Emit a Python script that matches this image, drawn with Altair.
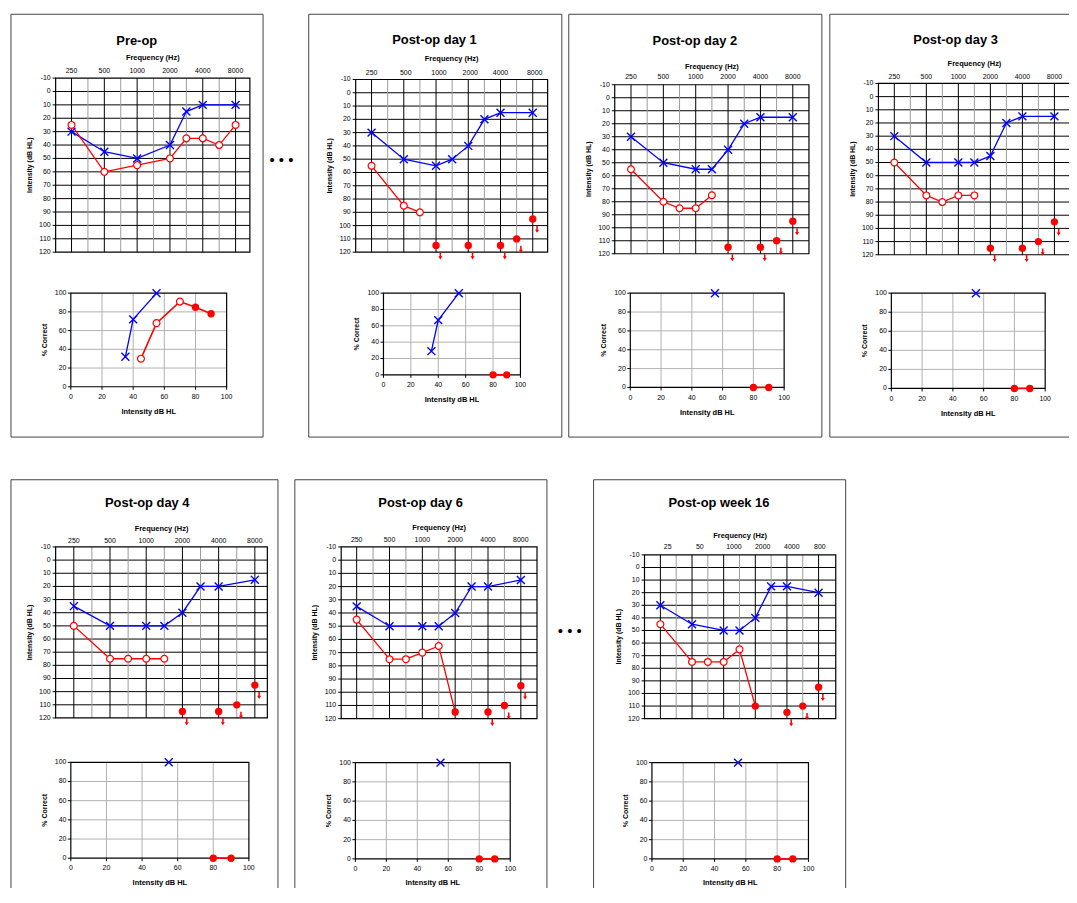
import altair as alt
import pandas as pd

# ---------------- data ----------------
TITLES = ["Pre-op", "Post-op day 1", "Post-op day 2", "Post-op day 3",
          "Post-op day 4", "Post-op day 6", "Post-op week 16"]
FREQ_LABELS = ["250", "500", "1000", "2000", "4000", "8000"]
FREQ_LABELS_WK16 = ["25", "50", "1000", "2000", "4000", "800"]
DB_TICKS = [-10, 0, 10, 20, 30, 40, 50, 60, 70, 80, 90, 100, 110, 120]
PC_TICKS = [0, 20, 40, 60, 80, 100]

# Audiogram thresholds: X (blue), O (red open), NR (red filled, no response + arrow),
# FC (red filled, connected to the O line)
PRE_X_HZ = [250, 500, 1000, 2000, 3000, 4000, 8000]
PRE_X_DB = [30, 45, 50, 40, 15, 10, 10]
PRE_O_HZ = [250, 500, 1000, 2000, 3000, 4000, 6000, 8000]
PRE_O_DB = [25, 60, 55, 50, 35, 35, 40, 25]
PRE_NR_HZ, PRE_NR_DB = [], []
PRE_FC_HZ, PRE_FC_DB = [], []

D1_X_HZ = [250, 500, 1000, 1500, 2000, 3000, 4000, 8000]
D1_X_DB = [30, 50, 55, 50, 40, 20, 15, 15]
D1_O_HZ = [250, 500, 750]
D1_O_DB = [55, 85, 90]
D1_NR_HZ = [1000, 2000, 4000, 6000, 8000]
D1_NR_DB = [115, 115, 115, 110, 95]
D1_FC_HZ, D1_FC_DB = [], []

D2_X_HZ = [250, 500, 1000, 1500, 2000, 3000, 4000, 8000]
D2_X_DB = [30, 50, 55, 55, 40, 20, 15, 15]
D2_O_HZ = [250, 500, 750, 1000, 1500]
D2_O_DB = [55, 80, 85, 85, 75]
D2_NR_HZ = [2000, 4000, 6000, 8000]
D2_NR_DB = [115, 115, 110, 95]
D2_FC_HZ, D2_FC_DB = [], []

D3_X_HZ = [250, 500, 1000, 1500, 2000, 3000, 4000, 8000]
D3_X_DB = [30, 50, 50, 50, 45, 20, 15, 15]
D3_O_HZ = [250, 500, 750, 1000, 1500]
D3_O_DB = [50, 75, 80, 75, 75]
D3_NR_HZ = [2000, 4000, 6000, 8000]
D3_NR_DB = [115, 115, 110, 95]
D3_FC_HZ, D3_FC_DB = [], []

D4_X_HZ = [250, 500, 1000, 1500, 2000, 3000, 4000, 8000]
D4_X_DB = [35, 50, 50, 50, 40, 20, 20, 15]
D4_O_HZ = [250, 500, 750, 1000, 1500]
D4_O_DB = [50, 75, 75, 75, 75]
D4_NR_HZ = [2000, 4000, 6000, 8000]
D4_NR_DB = [115, 115, 110, 95]
D4_FC_HZ, D4_FC_DB = [], []

D6_X_HZ = [250, 500, 1000, 1500, 2000, 3000, 4000, 8000]
D6_X_DB = [35, 50, 50, 50, 40, 20, 20, 15]
D6_O_HZ = [250, 500, 750, 1000, 1500]
D6_O_DB = [45, 75, 75, 70, 65]
D6_NR_HZ = [4000, 6000, 8000]
D6_NR_DB = [115, 110, 95]
D6_FC_HZ = [2000]
D6_FC_DB = [115]

W16_X_HZ = [250, 500, 1000, 1500, 2000, 3000, 4000, 8000]
W16_X_DB = [30, 45, 50, 50, 40, 15, 15, 20]
W16_O_HZ = [250, 500, 750, 1000, 1500]
W16_O_DB = [45, 75, 75, 75, 65]
W16_NR_HZ = [4000, 6000, 8000]
W16_NR_DB = [115, 110, 95]
W16_FC_HZ = [2000]
W16_FC_DB = [110]

# Speech: X (blue), O (red open), F (red filled) -> (dB HL, % correct)
PRE_SX_DB, PRE_SX_PC = [35, 40, 55], [32, 72, 100]
PRE_SO_DB, PRE_SO_PC = [45, 55, 70], [30, 68, 91]
PRE_SF_DB, PRE_SF_PC = [80, 90], [85, 78]

D1_SX_DB, D1_SX_PC = [35, 40, 55], [29, 67, 100]
D1_SO_DB, D1_SO_PC = [], []
D1_SF_DB, D1_SF_PC = [80, 90], [0, 0]

D2_SX_DB, D2_SX_PC = [55], [100]
D2_SO_DB, D2_SO_PC = [], []
D2_SF_DB, D2_SF_PC = [80, 90], [0, 0]

D3_SX_DB, D3_SX_PC = [55], [100]
D3_SO_DB, D3_SO_PC = [], []
D3_SF_DB, D3_SF_PC = [80, 90], [0, 0]

D4_SX_DB, D4_SX_PC = [55], [100]
D4_SO_DB, D4_SO_PC = [], []
D4_SF_DB, D4_SF_PC = [80, 90], [0, 0]

D6_SX_DB, D6_SX_PC = [55], [100]
D6_SO_DB, D6_SO_PC = [], []
D6_SF_DB, D6_SF_PC = [80, 90], [0, 0]

W16_SX_DB, W16_SX_PC = [55], [100]
W16_SO_DB, W16_SO_PC = [], []
W16_SF_DB, W16_SF_PC = [80, 90], [0, 0]

# ---------------- styling / layout ----------------
FONT = "Liberation Sans"
W, H = 1069, 880
BLUE = "#0000FF"
RED = "#FF0000"
BOXC = "#444444"
X_PATH = "M-1,-1L1,1M-1,1L1,-1"
ARROW_PATH = "M-0.22,-1L0.22,-1L0.22,0.1L0.58,0.1L0,1L-0.58,0.1L-0.22,0.1Z"
FREQ_POS = {250: 0, 500: 2, 750: 3, 1000: 4, 1500: 5, 2000: 6,
            3000: 7, 4000: 8, 6000: 9, 8000: 10}

AUD_GEOM = [
    dict(left=48, right=243.7, p0=64, p10=229.3, top=67.3, bottom=242.7, lc=7.3, ty=21.3),
    dict(left=350.3, right=543.7, p0=366.3, p10=528.7, top=68.7, bottom=242.7, lc=6.7, ty=21.7),
    dict(left=611.3, right=807, p0=627.7, p10=790.7, top=74, bottom=244.3, lc=8.7, ty=18.7),
    dict(left=877, right=1070.5, p0=893, p10=1054.3, top=72.7, bottom=245.3, lc=7.4, ty=20),
    dict(left=48, right=261.3, p0=66.3, p10=248.7, top=539.7, bottom=712, lc=6.7, ty=18.4),
    dict(left=335.7, right=533, p0=351.3, p10=516.7, top=539.7, bottom=712.7, lc=7.7, ty=19.4),
    dict(left=641.3, right=834, p0=657.3, p10=816.7, top=547.7, bottom=712.7, lc=8.4, ty=20),
]
# pixel shift of the top frequency labels (the week-16 labels sit right of their lines)
LABEL_DX = [[0, 0, 0, 0, 0, 0], [0, 2, 3, 2, 0, 2], [0, 0, 0, 0, 0, 0], [0, 0, 0, 0, 0, 0],
            [0, 0, 0, 0, 0, 0], [0, 0, 0, 0, 0, 0], [7.4, 7.8, 10.3, 7.4, 4.9, 1.3]]
SP_GEOM = [
    dict(x0=63.3, x100=220.3, y0=378.3, y100=284, lc=10.2, ty=25.2),
    dict(x0=378.3, x100=516.3, y0=366.3, y100=284, lc=10, ty=24.7),
    dict(x0=627, x100=782, y0=379, y100=284, lc=10, ty=25),
    dict(x0=890, x100=1045, y0=380, y100=284, lc=10, ty=25),
    dict(x0=63.3, x100=242.7, y0=853.3, y100=756.7, lc=9.5, ty=24),
    dict(x0=350, x100=506, y0=854, y100=757, lc=9.5, ty=23.5),
    dict(x0=648.8, x100=806.5, y0=854, y100=757, lc=9.5, ty=23.5),
]
BOXES = [(3, 257, 3, 429), (303, 558, 3, 429), (565, 820, 3, 429), (828, 1120, 3, 429),
         (3, 272, 472, 1000), (289, 543, 472, 1000), (590, 844, 472, 1000)]
TITLE_POS = [(129.7, 33.7), (429.7, 33), (692, 33.7), (954.7, 32.7),
             (140.3, 499.3), (415.7, 499.7), (716.3, 499.7)]
DOTS_POS = [(275.5, 155), (566, 629.5)]


def df_xy(xs, ys):
    return pd.DataFrame({"x": [float(v) for v in xs], "y": [float(v) for v in ys]})


def text_layer(df, X, Y, size=7, bold=False, **kw):
    return alt.Chart(df).mark_text(font=FONT, fontSize=size, fontWeight="bold" if bold else "normal",
                                   color="black", **kw).encode(x=X("x"), y=Y("y"), text="t:N")


def audiogram(g, ldx, labels, x_hz, x_db, o_hz, o_db, nr_hz, nr_db, fc_hz, fc_db):
    step = (g["p10"] - g["p0"]) / 10.0
    xl = (g["left"] - g["p0"]) / step
    xr = (g["right"] - g["p0"]) / step
    xs = alt.Scale(domain=[xl, xr], range=[g["left"], g["right"]], nice=False, zero=False)
    ys = alt.Scale(domain=[-10, 120], range=[g["top"], g["bottom"]], nice=False, zero=False)

    def X(f):
        return alt.X(f, type="quantitative", scale=xs, axis=None)

    def Y(f):
        return alt.Y(f, type="quantitative", scale=ys, axis=None)

    layers = []
    # grid
    hg = pd.DataFrame({"y": [float(v) for v in DB_TICKS[1:-1]]})
    hg["x"] = xl
    hg["x2"] = xr
    layers.append(alt.Chart(hg).mark_rule(color="black", strokeWidth=1).encode(
        x=X("x"), x2="x2", y=Y("y")))
    vg = pd.DataFrame({"x": [float(i) for i in range(11)]})
    vg["y"] = -10.0
    vg["y2"] = 120.0
    vg["c"] = ["black" if i % 2 == 0 else "#9a9a9a" for i in range(11)]
    layers.append(alt.Chart(vg).mark_rule(strokeWidth=1).encode(
        x=X("x"), y=Y("y"), y2="y2", color=alt.Color("c:N", scale=None)))
    fr = pd.DataFrame({"x": [xl], "x2": [xr], "y": [-10.0], "y2": [120.0]})
    layers.append(alt.Chart(fr).mark_rect(fill="white", fillOpacity=0, stroke="black",
                                          strokeWidth=1.2).encode(
        x=X("x"), x2="x2", y=Y("y"), y2="y2"))
    # left ticks + labels
    tk = pd.DataFrame({"y": [float(v) for v in DB_TICKS]})
    tk["x"] = xl - 3.0 / step
    tk["x2"] = xl
    layers.append(alt.Chart(tk).mark_rule(color="black", strokeWidth=1).encode(
        x=X("x"), x2="x2", y=Y("y")))
    yl = pd.DataFrame({"y": [float(v) for v in DB_TICKS], "t": [str(v) for v in DB_TICKS]})
    yl["x"] = xl
    layers.append(text_layer(yl, X, Y, align="right", baseline="middle", xOffset=-5))
    # top labels
    xlab = pd.DataFrame({"x": [2.0 * i + ldx[i] / step for i in range(6)], "t": labels})
    xlab["y"] = -10.0
    layers.append(text_layer(xlab, X, Y, align="center", baseline="alphabetic",
                             yOffset=-(g["lc"] - 2.5)))
    xt = pd.DataFrame({"x": [(xl + xr) / 2.0], "y": [-10.0], "t": ["Frequency (Hz)"]})
    layers.append(text_layer(xt, X, Y, size=7.5, bold=True, align="center", baseline="alphabetic",
                             yOffset=-(g["ty"] - 2.7)))
    yt = pd.DataFrame({"x": [xl], "y": [55.0], "t": ["Intensity (dB HL)"]})
    layers.append(text_layer(yt, X, Y, size=7, bold=True, align="center", baseline="middle",
                             angle=270, xOffset=-26))

    # data
    xd = df_xy([FREQ_POS[f] for f in x_hz], x_db)
    layers.append(alt.Chart(xd).mark_line(color=BLUE, strokeWidth=1.3).encode(x=X("x"), y=Y("y")))
    line_r = sorted(zip([FREQ_POS[f] for f in o_hz + fc_hz], o_db + fc_db))
    if len(line_r) > 1:
        rd = df_xy([a for a, b in line_r], [b for a, b in line_r])
        layers.append(alt.Chart(rd).mark_line(color=RED, strokeWidth=1.3).encode(x=X("x"), y=Y("y")))
    layers.append(alt.Chart(xd).mark_point(shape=X_PATH, filled=False, color=BLUE, strokeWidth=1.4,
                                           size=64, opacity=1).encode(x=X("x"), y=Y("y")))
    if o_hz:
        od = df_xy([FREQ_POS[f] for f in o_hz], o_db)
        layers.append(alt.Chart(od).mark_point(shape="circle", filled=True, fill="white", stroke=RED,
                                               strokeWidth=1.2, size=48, opacity=1).encode(
            x=X("x"), y=Y("y")))
    filled_hz = fc_hz + nr_hz
    filled_db = fc_db + nr_db
    if filled_hz:
        fd = df_xy([FREQ_POS[f] for f in filled_hz], filled_db)
        layers.append(alt.Chart(fd).mark_point(shape="circle", filled=True, color=RED, size=55,
                                               opacity=1).encode(x=X("x"), y=Y("y")))
    if nr_hz:
        ad = df_xy([FREQ_POS[f] for f in nr_hz], nr_db)
        layers.append(alt.Chart(ad).mark_point(shape=ARROW_PATH, filled=True, color=RED, size=49,
                                               opacity=1, xOffset=4.3, yOffset=10.5).encode(
            x=X("x"), y=Y("y")))
    return alt.layer(*layers)


def speech(g, sx_db, sx_pc, so_db, so_pc, sf_db, sf_pc):
    xs = alt.Scale(domain=[0, 100], range=[g["x0"], g["x100"]], nice=False, zero=False)
    ys = alt.Scale(domain=[0, 100], range=[g["y0"], g["y100"]], nice=False, zero=False)
    pxx = (g["x100"] - g["x0"]) / 100.0
    pxy = (g["y0"] - g["y100"]) / 100.0

    def X(f):
        return alt.X(f, type="quantitative", scale=xs, axis=None)

    def Y(f):
        return alt.Y(f, type="quantitative", scale=ys, axis=None)

    layers = []
    hg = pd.DataFrame({"y": [20.0, 40.0, 60.0, 80.0]})
    hg["x"] = 0.0
    hg["x2"] = 100.0
    layers.append(alt.Chart(hg).mark_rule(color="#b0b0b0", strokeWidth=1).encode(
        x=X("x"), x2="x2", y=Y("y")))
    vg = pd.DataFrame({"x": [20.0, 40.0, 60.0, 80.0]})
    vg["y"] = 0.0
    vg["y2"] = 100.0
    layers.append(alt.Chart(vg).mark_rule(color="#b0b0b0", strokeWidth=1).encode(
        x=X("x"), y=Y("y"), y2="y2"))
    fr = pd.DataFrame({"x": [0.0], "x2": [100.0], "y": [0.0], "y2": [100.0]})
    layers.append(alt.Chart(fr).mark_rect(fill="white", fillOpacity=0, stroke="black",
                                          strokeWidth=1.2).encode(
        x=X("x"), x2="x2", y=Y("y"), y2="y2"))
    # ticks
    tky = pd.DataFrame({"y": [float(v) for v in PC_TICKS]})
    tky["x"] = -3.0 / pxx
    tky["x2"] = 0.0
    layers.append(alt.Chart(tky).mark_rule(color="black", strokeWidth=1).encode(
        x=X("x"), x2="x2", y=Y("y")))
    tkx = pd.DataFrame({"x": [float(v) for v in PC_TICKS]})
    tkx["y"] = -3.0 / pxy
    tkx["y2"] = 0.0
    layers.append(alt.Chart(tkx).mark_rule(color="black", strokeWidth=1).encode(
        x=X("x"), y=Y("y"), y2="y2"))
    # labels
    yl = pd.DataFrame({"y": [float(v) for v in PC_TICKS], "t": [str(v) for v in PC_TICKS]})
    yl["x"] = 0.0
    layers.append(text_layer(yl, X, Y, align="right", baseline="middle", xOffset=-4.5))
    xlab = pd.DataFrame({"x": [float(v) for v in PC_TICKS], "t": [str(v) for v in PC_TICKS]})
    xlab["y"] = 0.0
    layers.append(text_layer(xlab, X, Y, align="center", baseline="alphabetic",
                             yOffset=g["lc"] + 2.5))
    xt = pd.DataFrame({"x": [50.0], "y": [0.0], "t": ["Intensity dB HL"]})
    layers.append(text_layer(xt, X, Y, size=7.5, bold=True, align="center", baseline="alphabetic",
                             yOffset=g["ty"] + 2.7))
    yt = pd.DataFrame({"x": [0.0], "y": [50.0], "t": ["% Correct"]})
    layers.append(text_layer(yt, X, Y, size=7, bold=True, align="center", baseline="middle",
                             angle=270, xOffset=-26.5))

    xd = df_xy(sx_db, sx_pc)
    if len(sx_db) > 1:
        layers.append(alt.Chart(xd).mark_line(color=BLUE, strokeWidth=1.3).encode(x=X("x"), y=Y("y")))
    red = sorted(zip(so_db + sf_db, so_pc + sf_pc))
    if len(red) > 1:
        rd = df_xy([a for a, b in red], [b for a, b in red])
        layers.append(alt.Chart(rd).mark_line(color=RED, strokeWidth=1.6).encode(x=X("x"), y=Y("y")))
    layers.append(alt.Chart(xd).mark_point(shape=X_PATH, filled=False, color=BLUE, strokeWidth=1.4,
                                           size=64, opacity=1).encode(x=X("x"), y=Y("y")))
    if so_db:
        od = df_xy(so_db, so_pc)
        layers.append(alt.Chart(od).mark_point(shape="circle", filled=True, fill="white", stroke=RED,
                                               strokeWidth=1.2, size=48, opacity=1).encode(
            x=X("x"), y=Y("y")))
    if sf_db:
        fd = df_xy(sf_db, sf_pc)
        layers.append(alt.Chart(fd).mark_point(shape="circle", filled=True, color=RED, size=55,
                                               opacity=1).encode(x=X("x"), y=Y("y")))
    return alt.layer(*layers)


AUD_DATA = [
    (FREQ_LABELS, PRE_X_HZ, PRE_X_DB, PRE_O_HZ, PRE_O_DB, PRE_NR_HZ, PRE_NR_DB, PRE_FC_HZ, PRE_FC_DB),
    (FREQ_LABELS, D1_X_HZ, D1_X_DB, D1_O_HZ, D1_O_DB, D1_NR_HZ, D1_NR_DB, D1_FC_HZ, D1_FC_DB),
    (FREQ_LABELS, D2_X_HZ, D2_X_DB, D2_O_HZ, D2_O_DB, D2_NR_HZ, D2_NR_DB, D2_FC_HZ, D2_FC_DB),
    (FREQ_LABELS, D3_X_HZ, D3_X_DB, D3_O_HZ, D3_O_DB, D3_NR_HZ, D3_NR_DB, D3_FC_HZ, D3_FC_DB),
    (FREQ_LABELS, D4_X_HZ, D4_X_DB, D4_O_HZ, D4_O_DB, D4_NR_HZ, D4_NR_DB, D4_FC_HZ, D4_FC_DB),
    (FREQ_LABELS, D6_X_HZ, D6_X_DB, D6_O_HZ, D6_O_DB, D6_NR_HZ, D6_NR_DB, D6_FC_HZ, D6_FC_DB),
    (FREQ_LABELS_WK16, W16_X_HZ, W16_X_DB, W16_O_HZ, W16_O_DB, W16_NR_HZ, W16_NR_DB, W16_FC_HZ, W16_FC_DB),
]
SP_DATA = [
    (PRE_SX_DB, PRE_SX_PC, PRE_SO_DB, PRE_SO_PC, PRE_SF_DB, PRE_SF_PC),
    (D1_SX_DB, D1_SX_PC, D1_SO_DB, D1_SO_PC, D1_SF_DB, D1_SF_PC),
    (D2_SX_DB, D2_SX_PC, D2_SO_DB, D2_SO_PC, D2_SF_DB, D2_SF_PC),
    (D3_SX_DB, D3_SX_PC, D3_SO_DB, D3_SO_PC, D3_SF_DB, D3_SF_PC),
    (D4_SX_DB, D4_SX_PC, D4_SO_DB, D4_SO_PC, D4_SF_DB, D4_SF_PC),
    (D6_SX_DB, D6_SX_PC, D6_SO_DB, D6_SO_PC, D6_SF_DB, D6_SF_PC),
    (W16_SX_DB, W16_SX_PC, W16_SO_DB, W16_SO_PC, W16_SF_DB, W16_SF_PC),
]

one = pd.DataFrame({"k": [0]})
deco = []
for (x1, x2, y1, y2) in BOXES:
    deco.append(alt.Chart(one).mark_rect(fill="white", fillOpacity=0, stroke=BOXC,
                                         strokeWidth=1).encode(
        x=alt.value(x1), x2=alt.value(x2), y=alt.value(y1), y2=alt.value(y2)))
for t, (cx, cy) in zip(TITLES, TITLE_POS):
    deco.append(alt.Chart(one).mark_text(font=FONT, fontSize=13, fontWeight="bold", color="black",
                                         align="center", baseline="alphabetic").encode(
        x=alt.value(cx), y=alt.value(cy), text=alt.value(t)))
for (cx, cy) in DOTS_POS:
    deco.append(alt.Chart(one).mark_text(font=FONT, fontSize=15, color="black", align="center",
                                         baseline="alphabetic").encode(
        x=alt.value(cx), y=alt.value(cy), text=alt.value("\u2022\u00a0\u2022\u00a0\u2022")))

subplots = []
for i in range(7):
    subplots.append(audiogram(AUD_GEOM[i], LABEL_DX[i], *AUD_DATA[i]))
    subplots.append(speech(SP_GEOM[i], *SP_DATA[i]))

chart = alt.layer(*deco, *subplots).resolve_scale(
    x="independent", y="independent").properties(
    width=W, height=H, padding=0, autosize=alt.AutoSizeParams(type="none"),
    background="white").configure_view(strokeWidth=0)

chart.save("out.html", embed_options={"renderer": "svg", "actions": False})
